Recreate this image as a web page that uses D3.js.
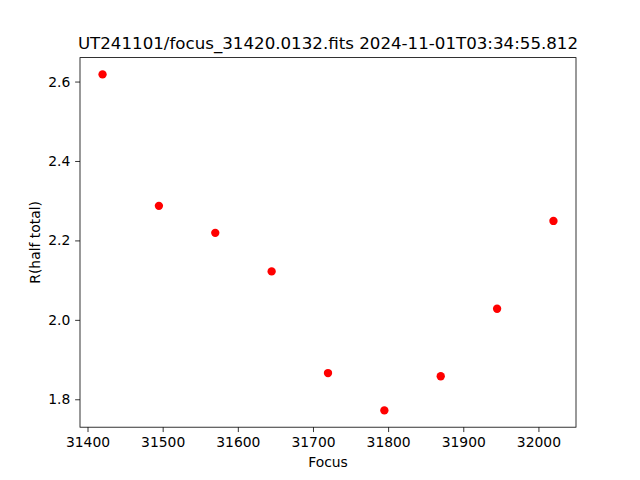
<!DOCTYPE html>
<html>
<head>
<meta charset="utf-8">
<script src="https://cdn.jsdelivr.net/npm/d3@7"></script>
<style>
  html, body { margin: 0; padding: 0; background: #fff; }
  svg { display: block; font-family: "DejaVu Sans", sans-serif; }
</style>
</head>
<body>
<svg id="chart" width="640" height="480"></svg>
<script>
const focus = [31420, 31495, 31570, 31645, 31720, 31795, 31870, 31945, 32020];
const rHalfTotal = [2.618, 2.287, 2.219, 2.122, 1.866, 1.772, 1.858, 2.028, 2.249];
const xTicks = [31400, 31500, 31600, 31700, 31800, 31900, 32000];
const yTicks = [1.8, 2.0, 2.2, 2.4, 2.6];
const titleText = "UT241101/focus_31420.0132.fits 2024-11-01T03:34:55.812";
const xLabel = "Focus";
const yLabel = "R(half total)";

(function () {
const W = 640, H = 480;
const mLeft = 0.125 * W, mRight = 0.9 * W, mTop = 0.12 * H, mBottom = 0.89 * H;
const svg = d3.select("#chart");
svg.append("rect").attr("width", W).attr("height", H).attr("fill", "#fff");

function padExt(arr) {
  const [a, b] = d3.extent(arr);
  const p = (b - a) * 0.05;
  return [a - p, b + p];
}

const x = d3.scaleLinear().domain(padExt(focus)).range([mLeft, mRight]);
const y = d3.scaleLinear().domain(padExt(rHalfTotal)).range([mBottom, mTop]);

const tickLen = 3.5 * 100 / 72;
const fs = 10 * 100 / 72;

const xAxis = d3.axisBottom(x).tickValues(xTicks).tickFormat(d3.format("d"))
  .tickSizeInner(tickLen).tickSizeOuter(0).tickPadding(tickLen);
const yAxis = d3.axisLeft(y).tickValues(yTicks).tickFormat(d3.format(".1f"))
  .tickSizeInner(tickLen).tickSizeOuter(0).tickPadding(tickLen);

const gx = svg.append("g").attr("transform", `translate(0,${mBottom})`).call(xAxis);
const gy = svg.append("g").attr("transform", `translate(${mLeft},0)`).call(yAxis);
[gx, gy].forEach(g => {
  g.select(".domain").remove();
  g.selectAll("line").attr("stroke", "#000").attr("stroke-width", 0.8);
  g.selectAll("text").attr("fill", "#000").style("font-size", fs + "px")
    .style("font-family", "'DejaVu Sans', sans-serif");
});

svg.append("rect").attr("x", mLeft).attr("y", mTop)
  .attr("width", mRight - mLeft).attr("height", mBottom - mTop)
  .attr("fill", "none").attr("stroke", "#000").attr("stroke-width", 0.8);

const pts = focus.map((f, i) => ({ f, r: rHalfTotal[i] }));
svg.append("g").selectAll("circle").data(pts).enter().append("circle")
  .attr("cx", d => x(d.f)).attr("cy", d => y(d.r))
  .attr("r", 3 * 100 / 72).attr("fill", "#ff0000");

svg.append("text").attr("x", (mLeft + mRight) / 2).attr("y", mTop - 8.5)
  .attr("text-anchor", "middle").style("font-size", (12 * 100 / 72) + "px")
  .attr("fill", "#000").text(titleText);

svg.append("text").attr("x", (mLeft + mRight) / 2).attr("y", 467)
  .attr("text-anchor", "middle").style("font-size", fs + "px")
  .attr("fill", "#000").text(xLabel);

svg.append("text")
  .attr("transform", `translate(40,${(mTop + mBottom) / 2}) rotate(-90)`)
  .attr("text-anchor", "middle").style("font-size", fs + "px")
  .attr("fill", "#000").text(yLabel);
})();
</script>
</body>
</html>
